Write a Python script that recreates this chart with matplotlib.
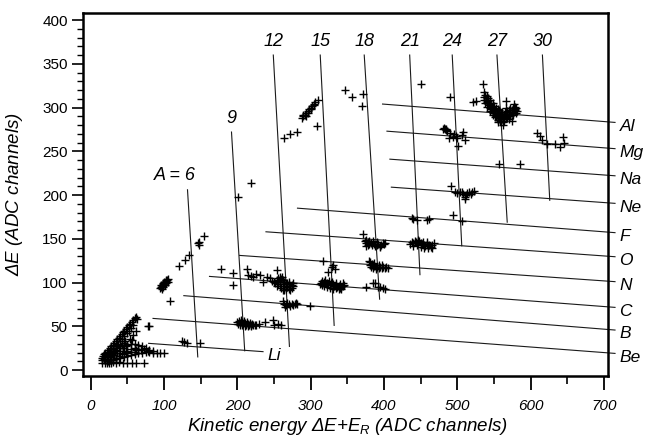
import matplotlib
matplotlib.use('Agg')
import matplotlib.pyplot as plt
from matplotlib.ticker import MultipleLocator

plt.rcParams['font.family'] = ['Liberation Sans', 'DejaVu Sans']
plt.rcParams['mathtext.fontset'] = 'custom'
plt.rcParams['mathtext.rm'] = 'Liberation Sans:italic'
plt.rcParams['mathtext.it'] = 'Liberation Sans:italic'

# isobar (mass) lines: top and bottom end points
mass_labels = ['A = 6', '9', '12', '15', '18', '21', '24', '27', '30']
mass_x_top = [132, 192, 249, 313, 373, 435, 493, 554, 616]
mass_y_top = [206, 272, 360, 360, 360, 360, 360, 360, 360]
mass_x_bot = [146, 210, 271, 332, 394, 449, 506, 568, 626]
mass_y_bot = [15, 22, 27, 51, 81, 109, 142, 169, 194]

# element (Z) lines: left and right end points
elem_labels = ['Al', 'Mg', 'Na', 'Ne', 'F', 'O', 'N', 'C', 'B', 'Be', 'Li']
elem_x_left = [398, 404, 408, 410, 282, 239, 203, 162, 127, 85, 79]
elem_y_left = [304, 273, 241, 209, 185, 158, 131, 107, 85, 59, 30.5]
elem_x_right = [715, 715, 715, 715, 715, 715, 715, 715, 715, 715, 235]
elem_y_right = [283, 253, 222, 190.5, 157, 129.5, 101, 71.6, 45.7, 19, 21]

# measured events, grouped by cluster
low_pts = [
    (16, 14), (17, 16), (18, 18), (20, 19), (22, 21), (24, 23), (26, 25), (28, 27),
    (30, 29), (32, 31), (34, 33), (36, 35), (38, 37), (40, 39), (42, 41), (44, 43),
    (46, 45), (48, 47), (50, 49), (52, 51), (54, 53), (56, 55), (58, 57), (60, 59),
    (62, 61), (63, 58), (18, 13), (20, 15), (22, 17), (25, 18), (28, 21), (31, 24),
    (34, 27), (37, 30), (40, 33), (43, 36), (46, 39), (49, 42), (52, 45), (55, 48),
    (58, 51), (20, 12), (24, 13), (28, 15), (32, 17), (36, 19), (40, 22), (44, 25),
    (48, 28), (30, 20), (35, 23), (40, 27), (45, 31), (26, 16), (34, 14), (38, 16),
    (22, 10), (26, 11), (30, 12), (35, 13), (40, 14), (45, 15), (50, 16), (55, 17),
    (60, 18), (65, 19), (70, 20), (75, 21), (80, 21), (85, 20), (90, 20), (95, 19),
    (100, 19), (45, 27), (50, 29), (55, 30), (60, 30), (65, 29), (70, 27), (75, 25),
    (80, 23), (85, 22), (50, 22), (55, 24), (60, 25), (65, 24), (45, 20), (50, 19),
    (60, 21), (16, 8), (19, 8), (22, 8), (25, 8), (28, 8), (31, 9), (35, 8), (39, 9),
    (44, 8), (50, 8), (56, 8), (62, 8), (72, 8), (16, 11), (20, 11), (24, 10), (28, 11),
    (78, 50), (62, 45), (56, 34), (58, 40), (53, 36), (33, 22), (38, 25), (42, 29),
    (47, 33), (36, 28), (30, 25), (25, 21), (42, 18), (48, 21), (55, 21), (62, 23),
    (68, 23), (72, 24), (78, 22),
]
a6_pts = [
    (95, 94), (96, 95), (97, 96), (98, 97), (99, 98), (100, 99), (101, 100), (102, 101),
    (103, 102), (104, 103), (97, 93), (99, 95), (101, 97), (103, 99), (105, 101),
    (106, 104), (96, 97), (98, 99), (100, 101), (102, 103), (108, 79), (121, 119),
    (128, 126), (134, 132), (146, 145), (148, 143), (147, 146), (154, 153), (124, 33),
    (127, 32), (131, 31), (149, 31), (79, 50),
]
a9_pts = [
    (200, 55), (202, 56), (204, 54), (206, 55), (208, 53), (210, 54), (212, 52), (214, 53),
    (216, 51), (218, 52), (220, 53), (222, 51), (224, 52), (226, 52), (203, 52), (207, 51),
    (211, 50), (215, 50), (219, 50), (205, 57), (209, 56), (213, 55), (217, 54), (201, 53),
    (238, 55), (249, 57), (256, 53), (260, 51), (250, 51), (229, 53), (218, 214), (201, 198),
    (178, 115), (194, 111), (194, 97), (213, 115), (215, 109), (226, 110), (231, 109),
    (235, 101), (240, 106), (244, 105), (254, 114), (218, 108), (222, 106), (247, 102),
]
a12_pts = [
    (252, 100), (254, 103), (256, 105), (258, 106), (260, 104), (262, 103), (264, 101),
    (266, 100), (268, 99), (270, 98), (272, 96), (274, 97), (256, 98), (258, 96), (260, 94),
    (262, 92), (264, 91), (266, 93), (268, 95), (270, 93), (272, 92), (274, 94), (276, 96),
    (254, 96), (258, 101), (262, 98), (266, 96), (270, 101), (255, 102), (261, 106),
    (250, 101), (276, 99), (262, 79), (264, 76), (266, 74), (268, 77), (270, 75), (272, 73),
    (274, 76), (276, 74), (278, 75), (280, 77), (282, 75), (265, 72), (299, 73),
    (263, 265), (272, 270), (281, 272),
]
a15_pts = [
    (288, 288), (290, 290), (292, 292), (294, 294), (296, 296), (298, 298), (300, 300),
    (302, 302), (304, 304), (306, 306), (289, 291), (293, 290), (297, 294), (301, 298),
    (305, 303), (310, 309), (309, 279), (314, 100), (316, 102), (318, 101), (320, 99),
    (322, 100), (324, 98), (326, 97), (328, 99), (330, 98), (332, 96), (334, 97), (336, 95),
    (338, 96), (340, 94), (342, 95), (344, 96), (346, 97), (318, 96), (322, 95), (326, 94),
    (330, 93), (334, 94), (338, 93), (342, 93), (316, 97), (320, 103), (325, 102),
    (329, 101), (335, 100), (340, 98), (344, 99), (313, 98), (317, 125), (331, 120),
    (333, 116), (324, 112), (329, 118),
]
a18_pts = [
    (347, 320), (357, 312), (372, 315), (370, 302), (372, 156), (374, 147), (376, 145),
    (378, 146), (380, 144), (382, 145), (384, 143), (386, 144), (388, 142), (390, 143),
    (392, 144), (394, 142), (396, 143), (398, 145), (400, 144), (376, 142), (380, 148),
    (385, 147), (390, 146), (395, 141), (378, 143), (401, 145), (375, 149), (379, 125),
    (381, 123), (383, 121), (385, 120), (387, 119), (389, 118), (391, 118), (393, 117),
    (395, 118), (397, 117), (399, 118), (401, 117), (403, 118), (381, 120), (385, 117),
    (389, 116), (393, 120), (397, 120), (382, 118), (405, 117), (386, 122), (376, 95),
    (385, 99), (392, 95), (401, 93), (388, 99), (395, 95), (399, 94),
]
a21_pts = [
    (436, 144), (438, 146), (440, 145), (442, 147), (444, 146), (446, 149), (448, 147),
    (450, 145), (452, 144), (454, 143), (456, 142), (458, 144), (460, 142), (462, 143),
    (464, 141), (466, 143), (468, 145), (440, 142), (445, 143), (450, 141), (455, 140),
    (460, 140), (447, 146), (453, 146), (458, 146), (466, 140), (438, 174), (445, 171),
    (458, 171), (461, 173), (440, 173), (450, 327),
]
a24_pts = [
    (490, 312), (494, 177), (506, 170), (492, 210), (497, 204), (500, 202), (504, 203),
    (508, 201), (510, 198), (513, 202), (516, 204), (520, 204), (523, 205), (510, 196),
    (512, 200), (506, 203), (518, 201), (481, 276), (482, 277), (483, 275), (484, 274),
    (485, 276), (486, 273), (490, 271), (495, 270), (494, 266), (488, 265), (499, 265),
    (508, 272), (510, 263), (501, 256), (506, 269), (498, 267),
]
a27_pts = [
    (536, 318), (538, 314), (540, 311), (542, 308), (544, 305), (546, 302), (548, 299),
    (550, 296), (552, 294), (554, 292), (556, 290), (558, 288), (560, 287), (562, 287),
    (564, 288), (566, 289), (568, 291), (570, 293), (572, 295), (574, 297), (576, 299),
    (578, 301), (580, 299), (582, 296), (580, 294), (576, 292), (572, 290), (568, 288),
    (564, 285), (560, 284), (556, 286), (552, 289), (548, 292), (544, 296), (540, 301),
    (538, 305), (536, 309), (540, 306), (544, 300), (548, 296), (552, 297), (556, 294),
    (560, 291), (564, 292), (568, 296), (572, 299), (545, 309), (541, 313), (550, 302),
    (555, 298), (561, 295), (566, 300), (535, 327), (566, 307), (577, 304), (525, 307),
    (522, 306), (562, 280), (575, 285), (555, 283), (557, 235), (585, 236),
    (539, 309), (543, 303), (547, 300), (551, 292), (553, 290), (557, 291), (559, 289),
    (563, 290), (567, 292), (571, 297), (575, 295), (579, 297), (574, 294), (570, 290),
    (562, 284), (558, 285), (546, 298), (542, 311), (537, 312), (549, 305), (553, 300),
    (557, 297), (545, 304), (549, 294), (559, 293), (565, 295), (578, 298), (570, 287),
]
a30_pts = [
    (608, 271), (613, 267), (615, 263), (622, 258), (633, 258), (640, 255), (645, 260),
    (644, 266),
]

events = low_pts + a6_pts + a9_pts + a12_pts + a15_pts + a18_pts + a21_pts + a24_pts + a27_pts + a30_pts
ev_x = [p[0] for p in events]
ev_y = [p[1] for p in events]

fig = plt.figure(figsize=(6.49, 4.38), dpi=100)
ax = fig.add_axes([0.1279, 0.1422, 0.809, 0.829])

for i in range(len(mass_labels)):
    ax.plot([mass_x_top[i], mass_x_bot[i]], [mass_y_top[i], mass_y_bot[i]],
            color='#1a1a1a', linewidth=0.8, clip_on=False)
    dx = -17 if i == 0 else 0
    ax.text(mass_x_top[i] + dx, mass_y_top[i] + 16, mass_labels[i],
            ha='center', va='center', fontsize=13, style='italic')

for i in range(len(elem_labels)):
    ax.plot([elem_x_left[i], elem_x_right[i]], [elem_y_left[i], elem_y_right[i]],
            color='#1a1a1a', linewidth=0.8, clip_on=False)
    ax.text(elem_x_right[i] + 6, elem_y_right[i] - 4.5, elem_labels[i],
            ha='left', va='center', fontsize=12.5, style='italic')

ax.plot(ev_x, ev_y, marker='+', linestyle='None', color='black',
        markersize=6, markeredgewidth=1.0)

ax.set_xlim(-10.5, 705.5)
ax.set_ylim(-6.5, 408.5)

for side in ['left', 'right', 'top', 'bottom']:
    ax.spines[side].set_linewidth(1.8)

ax.xaxis.set_major_locator(MultipleLocator(100))
ax.xaxis.set_minor_locator(MultipleLocator(50))
ax.yaxis.set_major_locator(MultipleLocator(50))
ax.yaxis.set_minor_locator(MultipleLocator(10))
ax.tick_params(axis='x', which='major', direction='out', length=10, width=1.3, pad=7, labelsize=11)
ax.tick_params(axis='x', which='minor', direction='out', length=6, width=1.2)
ax.tick_params(axis='y', which='major', direction='out', length=8, width=1.2, pad=3, labelsize=11)
ax.tick_params(axis='y', which='minor', direction='out', length=4, width=1.0)
for lab in ax.get_xticklabels():
    lab.set_style('italic')

ax.set_xlabel(r'Kinetic energy $\Delta E$+$E_R$ (ADC channels)', fontsize=13.5, style='italic')
ax.set_ylabel(r'$\Delta E$ (ADC channels)', fontsize=13.5, style='italic')
ax.xaxis.set_label_coords(0.503, -0.112)
ax.yaxis.set_label_coords(-0.11, 0.5)

fig.savefig('out.png', dpi=100)
